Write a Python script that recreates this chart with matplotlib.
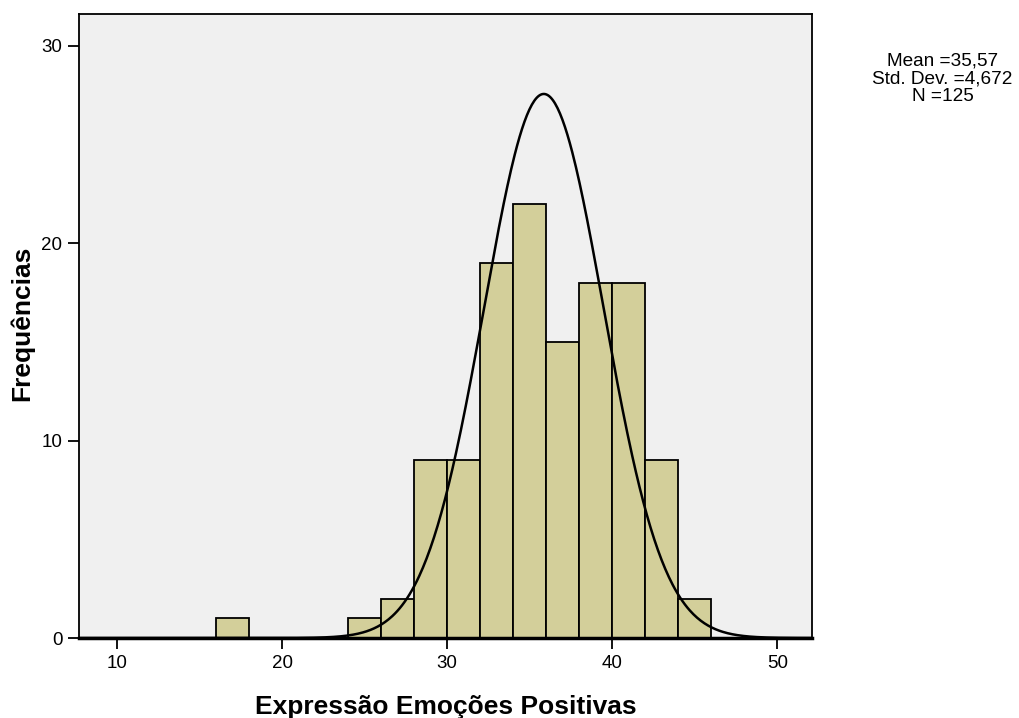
import numpy as np
import matplotlib.pyplot as plt

plt.rcParams['font.family'] = ['Liberation Sans', 'DejaVu Sans']

# histogram bins (width 2) and counts
bin_left = [16, 24, 26, 28, 30, 32, 34, 36, 38, 40, 42, 44]
counts = [1, 1, 2, 9, 9, 19, 22, 15, 18, 18, 9, 2]
bin_width = 2

# stats shown in the box
mean_txt = "35,57"
sd_txt = "4,672"
n_txt = "125"

# normal curve as drawn in the picture
curve_center = 35.85
curve_sd = 3.62
curve_area = 250  # N * bin width

fig = plt.figure(figsize=(10.19, 7.18), dpi=100)
ax = fig.add_axes([0.0775, 0.1114, 0.7195, 0.8691])
ax.set_facecolor('#f0f0f0')

ax.bar(bin_left, counts, width=bin_width, align='edge',
       color='#d3cf9a', edgecolor='black', linewidth=1.3, zorder=2)

xs = np.linspace(7.7, 52.1, 600)
ys = curve_area / (curve_sd * np.sqrt(2 * np.pi)) * np.exp(-0.5 * ((xs - curve_center) / curve_sd) ** 2)
ax.plot(xs, ys, color='black', linewidth=1.8, zorder=3)

ax.set_xlim(7.7, 52.1)
ax.set_ylim(0, 31.6)
ax.set_xticks([10, 20, 30, 40, 50])
ax.set_yticks([0, 10, 20, 30])
ax.tick_params(axis='both', direction='out', length=8, width=1.3, labelsize=13.5, pad=4)
for s in ax.spines.values():
    s.set_linewidth(1.3)
ax.spines['bottom'].set_linewidth(2.5)

ax.set_xlabel('Expressão Emoções Positivas', fontsize=19, fontweight='bold', va='center')
ax.xaxis.set_label_coords(0.5, -0.11)
ax.set_ylabel('Frequências', fontsize=19, fontweight='bold')
ax.yaxis.set_label_coords(-0.061, 0.504)

fig.text(0.925, 0.89, f"Mean ={mean_txt}\nStd. Dev. ={sd_txt}\nN ={n_txt}",
         ha='center', va='center', fontsize=13.7, linespacing=1.07)

fig.savefig('out.png', dpi=100)
